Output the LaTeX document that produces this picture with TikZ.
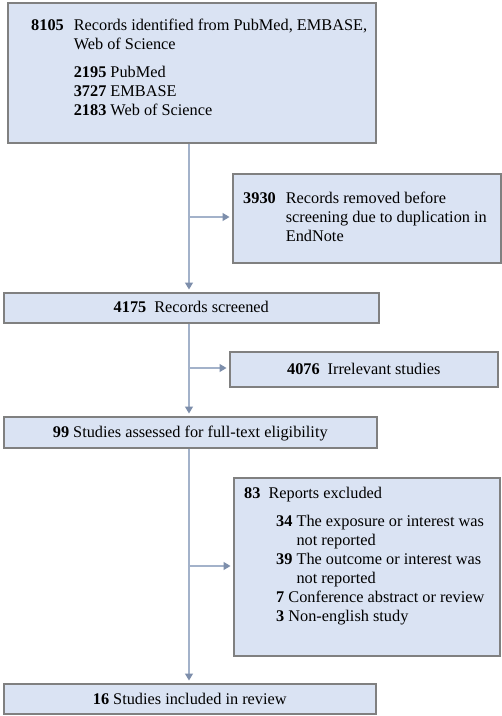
\documentclass[tikz,border=0pt]{standalone}
\usepackage{fontspec}
\setmainfont{Liberation Serif}
\usetikzlibrary{arrows.meta}
\definecolor{boxfill}{HTML}{DAE3F3}
\definecolor{boxline}{HTML}{808080}
\definecolor{connc}{HTML}{A3B2CA}
\definecolor{tipc}{HTML}{7D8EAB}
\begin{document}
\begin{tikzpicture}[x=1pt,y=-1pt,
  box/.style={draw=boxline, line width=1.5pt, fill=boxfill, inner sep=0pt, anchor=north west},
  conn/.style={draw=connc, line width=1.2pt},
  arr/.style={conn, -{Triangle[length=7pt,width=8pt,color=tipc,fill=tipc]}, shorten >=2.5pt},
  txt/.style={inner sep=0pt, font=\fontsize{16.3}{19}\selectfont, anchor=base west, align=left},
  ctxt/.style={inner sep=0pt, font=\fontsize{16.3}{19}\selectfont, anchor=base}]
\useasboundingbox (0,0) rectangle (502,716);
\fill[white] (0,0) rectangle (502,716);

% boxes
\node[box, minimum width=368pt, minimum height=140pt] (b1) at (7,2) {};
\node[box, minimum width=268pt, minimum height=89pt] (b2) at (232,173) {};
\node[box, minimum width=375pt, minimum height=30pt] (b3) at (3,292) {};
\node[box, minimum width=268pt, minimum height=35pt] (b4) at (229,351) {};
\node[box, minimum width=373pt, minimum height=31pt] (b5) at (3,416) {};
\node[box, minimum width=266pt, minimum height=178pt] (b6) at (233,477) {};
\node[box, minimum width=372pt, minimum height=30pt] (b7) at (3,683) {};

% texts
\node[txt] (t1) at (31,30) {\begin{tabular}[t]{@{}l@{\hspace{10pt}}l@{}}
\textbf{8105} & Records identified from PubMed, EMBASE,\\
 & Web of Science\\[9pt]
 & \textbf{2195} PubMed\\
 & \textbf{3727} EMBASE\\
 & \textbf{2183} Web of Science
\end{tabular}};

\node[txt] (t2) at (243,203) {\begin{tabular}[t]{@{}l@{\hspace{10pt}}l@{}}
\textbf{3930} & Records removed before\\
 & screening due to duplication in\\
 & EndNote
\end{tabular}};

\node[ctxt] (t3) at ([yshift=-5pt]b3.center) {\textbf{4175}\hspace{8pt}Records screened};
\node[ctxt] (t4) at ([yshift=-5.5pt]b4.center) {\textbf{4076}\hspace{8pt}Irrelevant studies};
\node[ctxt] (t5) at ([yshift=-5.5pt]b5.center) {\textbf{99} Studies assessed for full-text eligibility};
\node[ctxt] (t7) at ([yshift=-5.5pt]b7.center) {\textbf{16} Studies included in review};

\node[txt] (t6h) at (244,498) {\textbf{83}\hspace{8pt}Reports excluded};
\node[txt] (t6) at (276,526) {\begin{tabular}[t]{@{}l@{}}
\textbf{34} The exposure or interest was\\
\phantom{\textbf{34} }not reported\\
\textbf{39} The outcome or interest was\\
\phantom{\textbf{39} }not reported\\
\textbf{7} Conference abstract or review\\
\textbf{3} Non-english study
\end{tabular}};

% connectors
\coordinate (spine) at (189,0);
\coordinate (j1) at (189,217);
\coordinate (j2) at (189,368);
\coordinate (j3) at (189,566);
\draw[arr] (b1.south -| spine) -- (b3.north -| spine);
\draw[arr] (b3.south -| spine) -- (b5.north -| spine);
\draw[arr] (b5.south -| spine) -- (b7.north -| spine);
\draw[arr] (j1) -- (j1 -| b2.west);
\draw[arr] (j2) -- (j2 -| b4.west);
\draw[arr] (j3) -- (j3 -| b6.west);
\end{tikzpicture}
\end{document}
